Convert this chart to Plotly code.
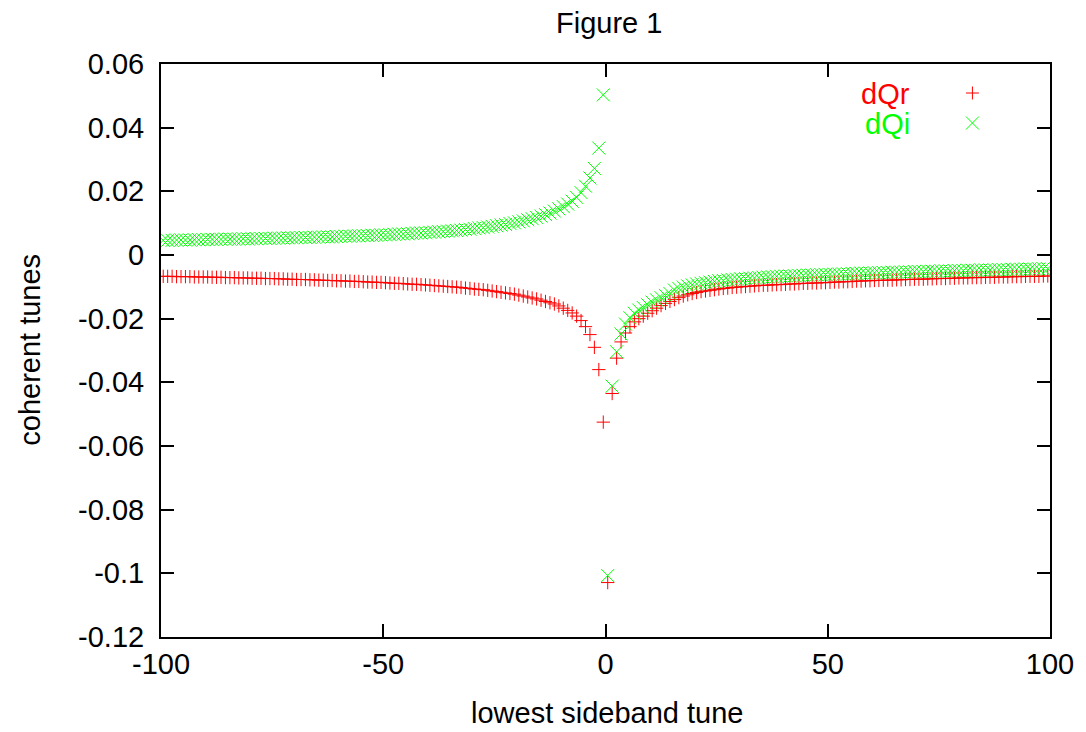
import plotly.graph_objects as go

# x grid (lowest sideband tune), 200 points, no point at 0
x_vals = [
 -99.5,-98.5,-97.5,-96.5,-95.5,-94.5,-93.5,-92.5,-91.5,-90.5,
 -89.5,-88.5,-87.5,-86.5,-85.5,-84.5,-83.5,-82.5,-81.5,-80.5,
 -79.5,-78.5,-77.5,-76.5,-75.5,-74.5,-73.5,-72.5,-71.5,-70.5,
 -69.5,-68.5,-67.5,-66.5,-65.5,-64.5,-63.5,-62.5,-61.5,-60.5,
 -59.5,-58.5,-57.5,-56.5,-55.5,-54.5,-53.5,-52.5,-51.5,-50.5,
 -49.5,-48.5,-47.5,-46.5,-45.5,-44.5,-43.5,-42.5,-41.5,-40.5,
 -39.5,-38.5,-37.5,-36.5,-35.5,-34.5,-33.5,-32.5,-31.5,-30.5,
 -29.5,-28.5,-27.5,-26.5,-25.5,-24.5,-23.5,-22.5,-21.5,-20.5,
 -19.5,-18.5,-17.5,-16.5,-15.5,-14.5,-13.5,-12.5,-11.5,-10.5,
 -9.5,-8.5,-7.5,-6.5,-5.5,-4.5,-3.5,-2.5,-1.5,-0.5,
 0.5,1.5,2.5,3.5,4.5,5.5,6.5,7.5,8.5,9.5,
 10.5,11.5,12.5,13.5,14.5,15.5,16.5,17.5,18.5,19.5,
 20.5,21.5,22.5,23.5,24.5,25.5,26.5,27.5,28.5,29.5,
 30.5,31.5,32.5,33.5,34.5,35.5,36.5,37.5,38.5,39.5,
 40.5,41.5,42.5,43.5,44.5,45.5,46.5,47.5,48.5,49.5,
 50.5,51.5,52.5,53.5,54.5,55.5,56.5,57.5,58.5,59.5,
 60.5,61.5,62.5,63.5,64.5,65.5,66.5,67.5,68.5,69.5,
 70.5,71.5,72.5,73.5,74.5,75.5,76.5,77.5,78.5,79.5,
 80.5,81.5,82.5,83.5,84.5,85.5,86.5,87.5,88.5,89.5,
 90.5,91.5,92.5,93.5,94.5,95.5,96.5,97.5,98.5,99.5,
]

# real part of the coherent tune shift
dQr = [
 -.0067,-.0067,-.0067,-.0068,-.0068,-.0068,-.0068,-.0069,-.0069,-.0069,
 -.0069,-.0070,-.0070,-.0070,-.0071,-.0071,-.0071,-.0072,-.0072,-.0072,
 -.0073,-.0073,-.0073,-.0074,-.0074,-.0074,-.0075,-.0075,-.0076,-.0076,
 -.0077,-.0077,-.0077,-.0078,-.0078,-.0079,-.0079,-.0080,-.0080,-.0081,
 -.0081,-.0082,-.0082,-.0083,-.0083,-.0084,-.0085,-.0085,-.0086,-.0086,
 -.0087,-.0088,-.0089,-.0089,-.0090,-.0091,-.0092,-.0092,-.0093,-.0094,
 -.0095,-.0096,-.0097,-.0098,-.0099,-.0100,-.0101,-.0102,-.0104,-.0105,
 -.0107,-.0108,-.0109,-.0111,-.0113,-.0115,-.0117,-.0119,-.0121,-.0123,
 -.0126,-.0129,-.0132,-.0135,-.0138,-.0142,-.0146,-.0150,-.0154,-.0160,
 -.0167,-.0174,-.0182,-.0192,-.0206,-.0225,-.0250,-.0290,-.0360,-.0525,
 -.1029,-.0435,-.0324,-.0273,-.0245,-.0225,-.0210,-.0200,-.0192,-.0183,
 -.0175,-.0167,-.0159,-.0152,-.0146,-.0140,-.0134,-.0129,-.0125,-.0121,
 -.0118,-.0115,-.0113,-.0111,-.0109,-.0107,-.0105,-.0104,-.0102,-.0101,
 -.0100,-.0099,-.0098,-.0097,-.0096,-.0095,-.0095,-.0094,-.0093,-.0093,
 -.0092,-.0091,-.0091,-.0090,-.0089,-.0089,-.0088,-.0088,-.0087,-.0087,
 -.0086,-.0085,-.0085,-.0084,-.0084,-.0083,-.0082,-.0082,-.0081,-.0081,
 -.0080,-.0080,-.0079,-.0079,-.0079,-.0078,-.0078,-.0077,-.0077,-.0076,
 -.0076,-.0076,-.0075,-.0075,-.0074,-.0074,-.0074,-.0073,-.0073,-.0072,
 -.0072,-.0072,-.0071,-.0071,-.0071,-.0070,-.0070,-.0070,-.0069,-.0069,
 -.0069,-.0068,-.0068,-.0068,-.0067,-.0067,-.0067,-.0067,-.0066,-.0066,
]

# imaginary part of the coherent tune shift
dQi = [
 .0046,.0046,.0046,.0047,.0047,.0047,.0047,.0048,.0048,.0048,
 .0049,.0049,.0049,.0049,.0050,.0050,.0050,.0050,.0051,.0051,
 .0051,.0051,.0052,.0052,.0052,.0053,.0053,.0053,.0054,.0054,
 .0054,.0055,.0055,.0055,.0056,.0056,.0057,.0057,.0057,.0058,
 .0058,.0059,.0059,.0060,.0060,.0061,.0061,.0062,.0062,.0063,
 .0063,.0064,.0065,.0066,.0066,.0067,.0068,.0069,.0069,.0070,
 .0071,.0072,.0073,.0074,.0075,.0076,.0077,.0078,.0080,.0081,
 .0083,.0085,.0086,.0088,.0090,.0092,.0094,.0096,.0099,.0101,
 .0104,.0107,.0111,.0114,.0118,.0122,.0127,.0132,.0138,.0145,
 .0152,.0160,.0169,.0181,.0196,.0216,.0242,.0272,.0336,.0503,
 -.1007,-.0412,-.0304,-.0248,-.0217,-.0197,-.0183,-.0173,-.0165,-.0156,
 -.0148,-.0141,-.0134,-.0127,-.0121,-.0110,-.0105,-.0101,-.0097,-.0094,
 -.0091,-.0089,-.0087,-.0085,-.0083,-.0081,-.0080,-.0078,-.0077,-.0076,
 -.0075,-.0074,-.0073,-.0072,-.0071,-.0070,-.0069,-.0068,-.0067,-.0067,
 -.0066,-.0066,-.0065,-.0064,-.0064,-.0063,-.0063,-.0062,-.0062,-.0061,
 -.0061,-.0060,-.0060,-.0059,-.0059,-.0058,-.0058,-.0057,-.0057,-.0056,
 -.0056,-.0056,-.0055,-.0055,-.0054,-.0054,-.0054,-.0053,-.0053,-.0052,
 -.0052,-.0052,-.0051,-.0051,-.0051,-.0050,-.0050,-.0050,-.0049,-.0049,
 -.0049,-.0048,-.0048,-.0048,-.0047,-.0047,-.0047,-.0047,-.0046,-.0046,
 -.0046,-.0045,-.0045,-.0045,-.0044,-.0044,-.0044,-.0044,-.0043,-.0043,
]

x_ticks = [-100, -50, 0, 50, 100]
x_ticktext = ["-100", "-50", "0", "50", "100"]
y_ticks = [-0.12, -0.10, -0.08, -0.06, -0.04, -0.02, 0, 0.02, 0.04, 0.06]
y_ticktext = ["-0.12", "-0.1", "-0.08", "-0.06", "-0.04", "-0.02", "0", "0.02", "0.04", "0.06"]

RED = "#ff0000"
GREEN = "#00ff00"
FONT = "Liberation Sans, Arial, sans-serif"
FS = 29

fig = go.Figure()
fig.add_trace(go.Scatter(
    x=x_vals, y=dQr, mode="markers", name="dQr",
    marker=dict(symbol="cross-thin-open", size=9.5, color=RED, line=dict(color=RED, width=1)),
))
fig.add_trace(go.Scatter(
    x=x_vals, y=dQi, mode="markers", name="dQi",
    marker=dict(symbol="x-thin-open", size=13, color=GREEN, line=dict(color=GREEN, width=1)),
))

axis_common = dict(
    showgrid=False, zeroline=False, showline=True, linecolor="black", linewidth=2,
    mirror="allticks", ticks="inside", ticklen=13, tickwidth=2, tickcolor="black",
    tickfont=dict(family=FONT, size=FS, color="black"),
)
fig.update_xaxes(range=[-100, 100], tickvals=x_ticks, ticktext=x_ticktext, **axis_common)
fig.update_yaxes(range=[-0.12, 0.06], tickvals=y_ticks, ticktext=y_ticktext,
                 ticklabelstandoff=9, **axis_common)

# the page's body margin is removed below, so the figure fills the window
FW, FH = 1086, 732
# plot area in screen pixels
AL, AR, AT, AB = 161, 1055, 64, 637
L, T = AL, AT
W, H = AR - AL, AB - AT

def px(xabs): return (xabs - AL) / W
def py(yabs): return (AB - yabs) / H

annotations = [
    dict(text="Figure 1", x=px(612), y=py(23), xref="paper", yref="paper",
         showarrow=False, xanchor="center", yanchor="middle",
         font=dict(family=FONT, size=FS, color="black")),
    dict(text="lowest sideband tune", x=px(610), y=py(713), xref="paper", yref="paper",
         showarrow=False, xanchor="center", yanchor="middle",
         font=dict(family=FONT, size=FS, color="black")),
    dict(text="coherent tunes", x=px(29), y=py(350), xref="paper", yref="paper",
         showarrow=False, xanchor="center", yanchor="middle", textangle=-90,
         font=dict(family=FONT, size=FS, color="black")),
    dict(text="dQr", x=px(916), y=py(94), xref="paper", yref="paper",
         showarrow=False, xanchor="right", yanchor="middle",
         font=dict(family=FONT, size=FS, color=RED)),
    dict(text="dQi", x=px(916), y=py(124), xref="paper", yref="paper",
         showarrow=False, xanchor="right", yanchor="middle",
         font=dict(family=FONT, size=FS, color=GREEN)),
]

cx, a = 977, 6.5
shapes = [
    dict(type="line", xref="paper", yref="paper", x0=px(cx - a), x1=px(cx + a), y0=py(93), y1=py(93),
         line=dict(color=RED, width=1)),
    dict(type="line", xref="paper", yref="paper", x0=px(cx), x1=px(cx), y0=py(93 - a), y1=py(93 + a),
         line=dict(color=RED, width=1)),
    dict(type="line", xref="paper", yref="paper", x0=px(cx - a), x1=px(cx + a), y0=py(123 - a), y1=py(123 + a),
         line=dict(color=GREEN, width=1)),
    dict(type="line", xref="paper", yref="paper", x0=px(cx - a), x1=px(cx + a), y0=py(123 + a), y1=py(123 - a),
         line=dict(color=GREEN, width=1)),
]

fig.update_layout(
    width=FW, height=FH,
    margin=dict(l=L, r=FW - L - W, t=T, b=FH - T - H, pad=0),
    paper_bgcolor="white", plot_bgcolor="white",
    showlegend=False,
    annotations=annotations, shapes=shapes,
    font=dict(family=FONT, size=FS, color="black"),
)

fig.write_html(
    "out.html",
    config={"displayModeBar": False},
    post_script="document.body.style.margin='0';document.body.style.overflow='hidden';",
)
